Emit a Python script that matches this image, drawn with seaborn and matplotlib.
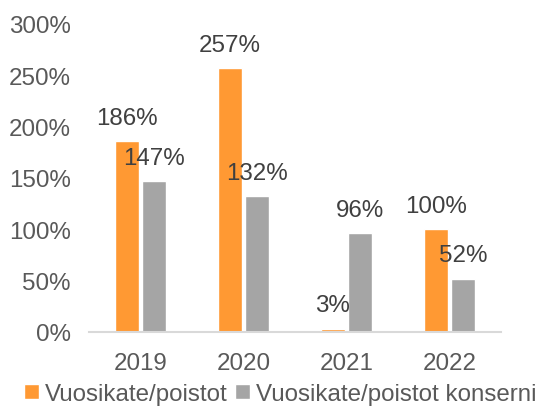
import matplotlib
matplotlib.use("Agg")
import matplotlib.pyplot as plt
import seaborn as sns
import pandas as pd

years = ["2019", "2020", "2021", "2022"]
series_names = ["Vuosikate/poistot", "Vuosikate/poistot konserni"]
vuosikate = [186, 257, 3, 100]
konserni = [147, 132, 96, 52]
yticks = [0, 50, 100, 150, 200, 250, 300]

sns.set_theme(style="white")
plt.rcParams['font.family'] = ['Liberation Sans', 'DejaVu Sans']

df = pd.DataFrame({
    "year": years * 2,
    "series": [series_names[0]] * 4 + [series_names[1]] * 4,
    "value": vuosikate + konserni,
})

FS = 17.4
fig = plt.figure(figsize=(5.39, 4.14), dpi=100)
ax = fig.add_axes([89/539, 1-333/414, (501-89)/539, (333-25)/414])

sns.barplot(data=df, x="year", y="value", hue="series", order=years,
            hue_order=series_names, palette=["#FF9933", "#A5A5A5"],
            width=0.53, gap=0.12, ax=ax, legend=True, saturation=1)

for c in ax.containers:
    ax.bar_label(c, labels=[f"{v:.0f}%" for v in c.datavalues], padding=9,
                 fontsize=FS, color="#404040")

ax.set_ylim(0, 300)
ax.set_xlim(-0.5, 3.5)
ax.set_yticks(yticks)
ax.set_yticklabels([f"{t}%" for t in yticks])
ax.set_xlabel("")
ax.set_ylabel("")
ax.tick_params(axis="both", length=0, labelsize=FS, labelcolor="#595959")
ax.tick_params(axis="y", pad=13)
ax.tick_params(axis="x", pad=14.5)
for s in ["top", "right", "left"]:
    ax.spines[s].set_visible(False)
ax.spines["bottom"].set_color("#D9D9D9")
ax.spines["bottom"].set_linewidth(1.5)

handles, labels = ax.get_legend_handles_labels()
ax.get_legend().remove()
fig.legend(handles, labels, loc="center", bbox_to_anchor=(0.52, 1-395/414),
           ncol=2, frameon=False, fontsize=FS, labelcolor="#595959",
           handlelength=0.6, handleheight=0.6, handletextpad=0.25,
           columnspacing=0.3, borderaxespad=0, borderpad=0)

fig.savefig("out.png", dpi=100)
